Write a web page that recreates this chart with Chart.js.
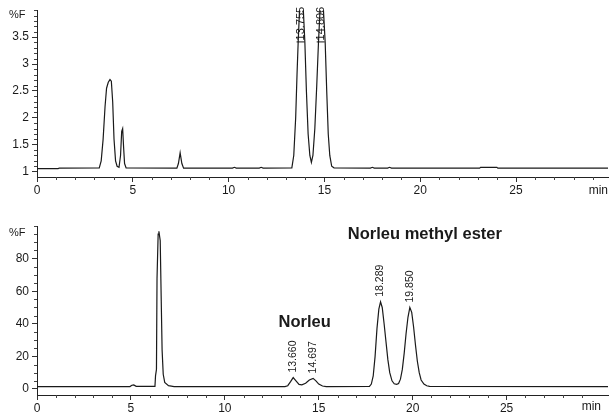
<!DOCTYPE html>
<html>
<head>
<meta charset="utf-8">
<script src="https://cdn.jsdelivr.net/npm/chart.js@4/dist/chart.umd.min.js"></script>
<style>
  html, body { margin: 0; padding: 0; background: #fff; }
  #wrap { position: relative; width: 609px; height: 416px; overflow: hidden; }
  #c1 { position: absolute; left: 0; top: 0; }
  #c2 { position: absolute; left: 0; top: 205px; }
</style>
</head>
<body>
<div id="wrap">
  <canvas id="c1" width="609" height="205"></canvas>
  <canvas id="c2" width="609" height="211"></canvas>
</div>
<script>
// ---------- Top chromatogram ----------
const topTime = [
  0, 1.1, 1.15, 3.25, 3.35, 3.45, 3.55, 3.63, 3.72, 3.81, 3.88, 3.95, 4.02, 4.1, 4.18, 4.28,
  4.36, 4.42, 4.47, 4.52, 4.57, 4.65,
  7.3, 7.38, 7.47, 7.56, 7.65,
  10.2, 10.3, 10.4, 11.6, 11.7, 11.8,
  13.3, 13.4, 13.5, 13.57, 13.63, 13.7, 13.8, 13.9, 13.98, 14.06, 14.15, 14.24, 14.32,
  14.4, 14.5, 14.6, 14.69, 14.77, 14.86, 14.95, 15.04, 15.12, 15.2, 15.28, 15.38, 15.5,
  17.4, 17.5, 17.6, 18.3, 18.4, 18.5,
  23.1, 23.15, 24.0, 24.05, 29.8
];
const topSignal = [
  1.055, 1.055, 1.065, 1.07, 1.2, 1.6, 2.2, 2.55, 2.66, 2.71, 2.68, 2.3, 1.6, 1.2, 1.1, 1.08,
  1.3, 1.75, 1.8, 1.45, 1.15, 1.07,
  1.065, 1.15, 1.35, 1.15, 1.065,
  1.065, 1.08, 1.065, 1.065, 1.08, 1.065,
  1.07, 1.3, 2.0, 2.8, 3.4, 4.0, 4.4, 4.0, 3.4, 2.5, 1.7, 1.3, 1.17,
  1.3, 1.8, 2.6, 3.4, 4.0, 4.4, 4.0, 3.4, 2.5, 1.7, 1.3, 1.1, 1.07,
  1.065, 1.08, 1.065, 1.065, 1.08, 1.065,
  1.065, 1.08, 1.08, 1.065, 1.065
];
const topXTicks = [0, 5, 10, 15, 20, 25];
const topYTicks = [1, 1.5, 2, 2.5, 3, 3.5];
const topYMinor = [1.1,1.2,1.3,1.4,1.6,1.7,1.8,1.9,2.1,2.2,2.3,2.4,2.6,2.7,2.8,2.9,3.1,3.2,3.3,3.4,3.6,3.7,3.8,3.9,4.0];
const topPeakTimes = [13.755, 14.806];
const topPeakLabels = ['13.755', '14.806'];
const topPeakMarks = [3.42, 3.42];

// ---------- Bottom chromatogram ----------
const botTime = [
  0, 4.95, 5.05, 5.15, 5.28,
  6.28, 6.31, 6.36, 6.39, 6.45, 6.49, 6.56, 6.61, 6.66, 6.72, 6.8, 7.0, 7.3,
  13.2, 13.35, 13.5, 13.64, 13.8, 13.95, 14.1, 14.3, 14.5, 14.7, 14.85, 15.0, 15.2, 15.4,
  17.7, 17.8, 17.9, 18.0, 18.1, 18.2, 18.29, 18.38, 18.48, 18.58, 18.68, 18.78, 18.9, 19.02, 19.15,
  19.25, 19.35, 19.45, 19.55, 19.65, 19.75, 19.85, 19.95, 20.05, 20.15, 20.25, 20.35, 20.45, 20.6, 20.75, 20.9,
  30.4
];
const botSignal = [
  1.5, 1.5, 2.3, 2.5, 1.6,
  1.6, 8, 12, 68, 95, 96.8, 91, 57, 24, 9, 4, 2, 1.5,
  1.5, 2, 4.5, 7, 4.8, 2.8, 2.5, 3.5, 5.5, 6.5, 5, 3, 1.8, 1.5,
  1.6, 3, 8, 20, 37, 49, 53.5, 50, 40, 29, 18, 10, 5, 3.2, 2.8,
  3.3, 6, 12, 22, 34, 44, 50, 47, 38, 27, 17, 10, 5.5, 3, 2, 1.6,
  1.5
];
const botXTicks = [0, 5, 10, 15, 20, 25];
const botYTicks = [0, 20, 40, 60, 80];
const botYMinor = [5,10,15,25,30,35,45,50,55,65,70,75,85,90,95,100];
const botPeakTimes = [13.660, 14.697, 18.289, 19.850];
const botPeakLabels = ['13.660', '14.697', '18.289', '19.850'];
const botPeakHeights = [7, 6.5, 53.5, 50];

const xMinor = [1,2,3,4,6,7,8,9,11,12,13,14,16,17,18,19,21,22,23,24,26,27,28,29];

const FONT = "'Liberation Sans', Arial, sans-serif";
const INK = '#1a1a1a';

function pts(xs, ys) { return xs.map((x, i) => ({ x: x, y: ys[i] })); }

function decorPlugin(cfg) {
  return {
    id: 'decor',
    afterDraw(chart) {
      const ctx = chart.ctx, xs = chart.scales.x, ys = chart.scales.y;
      const a = chart.chartArea;
      ctx.save();
      // minor ticks
      ctx.strokeStyle = '#444';
      ctx.lineWidth = 1;
      ctx.beginPath();
      cfg.xMinor.forEach(v => {
        if (v > xs.max) return;
        const px = Math.round(xs.getPixelForValue(v)) + 0.5;
        ctx.moveTo(px, a.bottom); ctx.lineTo(px, a.bottom + 3);
      });
      cfg.yMinor.forEach(v => {
        const py = Math.round(ys.getPixelForValue(v)) + 0.5;
        ctx.moveTo(a.left - 3, py); ctx.lineTo(a.left, py);
      });
      ctx.stroke();
      // %F and min labels
      ctx.fillStyle = INK;
      ctx.font = '11px ' + FONT;
      ctx.textBaseline = 'middle';
      ctx.textAlign = 'left';
      ctx.fillText('%F', 9, cfg.pfY);
      ctx.textAlign = 'right';
      ctx.font = cfg.tickFont + 'px ' + FONT;
      ctx.fillText('min', cfg.minRight, cfg.minY);
      // peak labels (rotated)
      ctx.font = cfg.peaks.size + 'px ' + FONT;
      cfg.peaks.t.forEach((t, i) => {
        const px = xs.getPixelForValue(t);
        const py = ys.getPixelForValue(cfg.peaks.y[i]) - cfg.peaks.gap;
        if (cfg.peaks.cross) {
          ctx.beginPath();
          ctx.strokeStyle = INK;
          ctx.moveTo(px - 4, py + 1.5); ctx.lineTo(px + 4, py + 1.5);
          ctx.stroke();
        }
        ctx.save();
        ctx.translate(px, py);
        ctx.rotate(-Math.PI / 2);
        ctx.textAlign = 'left';
        ctx.textBaseline = 'middle';
        ctx.fillText(cfg.peaks.labels[i], 0, 0);
        ctx.restore();
      });
      // annotations
      if (cfg.notes) {
        ctx.font = 'bold 16.5px ' + FONT;
        ctx.textBaseline = 'middle';
        cfg.notes.forEach(n => {
          ctx.textAlign = n.align;
          ctx.fillText(n.text, xs.getPixelForValue(n.x), ys.getPixelForValue(n.y));
        });
      }
      ctx.restore();
    }
  };
}

function makeChart(id, xs, ys, xMax, yMin, yMax, xTicks, yTicks, fmt, padTop, xAxisH, tickFont, plugin) {
  return new Chart(document.getElementById(id), {
    type: 'line',
    data: { datasets: [{ data: pts(xs, ys), borderColor: INK, borderWidth: 1.2, pointRadius: 0, tension: 0, fill: false }] },
    options: {
      responsive: false,
      animation: false,
      devicePixelRatio: 1,
      layout: { padding: { top: padTop, right: 1, left: 0, bottom: 0 } },
      plugins: { legend: { display: false }, tooltip: { enabled: false } },
      scales: {
        x: {
          type: 'linear', min: 0, max: xMax,
          afterBuildTicks: s => { s.ticks = xTicks.map(v => ({ value: v })); },
          afterFit: s => { s.height = xAxisH; },
          ticks: { color: INK, font: { family: FONT, size: tickFont }, padding: 1, maxRotation: 0, autoSkip: false },
          grid: { drawOnChartArea: false, drawTicks: true, tickLength: 5, color: '#333' },
          border: { display: true, color: '#222', width: 1 }
        },
        y: {
          type: 'linear', min: yMin, max: yMax,
          afterBuildTicks: s => { s.ticks = yTicks.map(v => ({ value: v })); },
          afterFit: s => { s.width = 37; },
          ticks: { color: INK, font: { family: FONT, size: tickFont }, padding: 3, callback: fmt },
          grid: { drawOnChartArea: false, drawTicks: true, tickLength: 5, color: '#333' },
          border: { display: true, color: '#222', width: 1 }
        }
      }
    },
    plugins: [plugin]
  });
}

makeChart('c1', topTime, topSignal, 29.8, 0.9, 4.0, topXTicks, topYTicks, v => String(v), 6, 28, 12,
  decorPlugin({ xMinor: xMinor, yMinor: topYMinor, pfY: 15, minRight: 608, minY: 191, tickFont: 12,
    peaks: { t: topPeakTimes, y: topPeakMarks, labels: topPeakLabels, gap: 1, cross: true, size: 11 } }));

makeChart('c2', botTime, botSignal, 30.4, -3.7, 100, botXTicks, botYTicks, v => String(v), 21, 21, 12,
  decorPlugin({ xMinor: xMinor, yMinor: botYMinor, pfY: 28, minRight: 601, minY: 202, tickFont: 12,
    peaks: { t: botPeakTimes, y: botPeakHeights, labels: botPeakLabels, gap: 5, cross: false, size: 10.5 },
    notes: [ { text: 'Norleu methyl ester', x: 16.55, y: 95, align: 'left' },
             { text: 'Norleu', x: 14.25, y: 41, align: 'center' } ] }));
</script>
</body>
</html>
